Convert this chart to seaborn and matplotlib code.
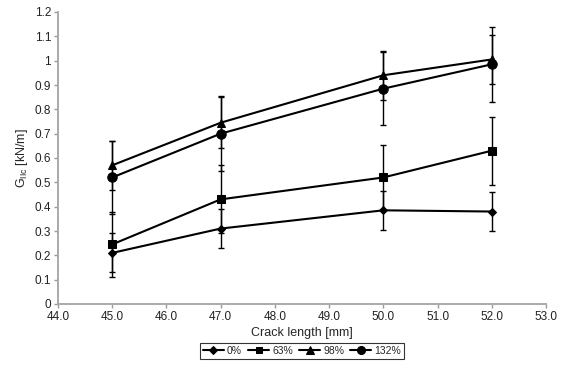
import numpy as np
import pandas as pd
import matplotlib
matplotlib.use("Agg")
import matplotlib.pyplot as plt
import seaborn as sns

# --- DATA ---
crack_length = [45.0, 47.0, 50.0, 52.0]
series_names = ["0%", "63%", "98%", "132%"]
g_0 = [0.21, 0.31, 0.385, 0.38]
g_63 = [0.245, 0.43, 0.52, 0.63]
g_98 = [0.57, 0.745, 0.94, 1.005]
g_132 = [0.52, 0.70, 0.885, 0.985]
err_0 = [0.08, 0.08, 0.08, 0.08]
err_63 = [0.135, 0.14, 0.135, 0.14]
err_98 = [0.10, 0.105, 0.10, 0.10]
err_132 = [0.15, 0.155, 0.15, 0.155]
x_ticks = [44.0, 45.0, 46.0, 47.0, 48.0, 49.0, 50.0, 51.0, 52.0, 53.0]
y_ticks = [0, 0.1, 0.2, 0.3, 0.4, 0.5, 0.6, 0.7, 0.8, 0.9, 1, 1.1, 1.2]

values = [g_0, g_63, g_98, g_132]
errors = [err_0, err_63, err_98, err_132]
markers = {"0%": "D", "63%": "s", "98%": "^", "132%": "o"}
msizes = {"0%": 4.5, "63%": 5.8, "98%": 6.0, "132%": 6.8}

df = pd.DataFrame({
    "Crack length": np.tile(crack_length, len(series_names)),
    "G": np.concatenate(values),
    "err": np.concatenate(errors),
    "series": np.repeat(series_names, len(crack_length)),
})

# --- STYLE ---
sns.set_style("white")
plt.rcParams["font.family"] = ["Liberation Sans", "DejaVu Sans"]
plt.rcParams["mathtext.fontset"] = "custom"
plt.rcParams["mathtext.rm"] = "Liberation Sans"
plt.rcParams["mathtext.it"] = "Liberation Sans"

fig = plt.figure(figsize=(5.68, 3.77), dpi=100)
ax = fig.add_axes([58 / 568, 1 - 304 / 377, (546 - 58) / 568, (304 - 12) / 377])

# error bars first
for name, g in df.groupby("series", sort=False):
    ax.errorbar(g["Crack length"], g["G"], yerr=g["err"], fmt="none",
                ecolor="black", elinewidth=1.0, capsize=2.5, capthick=1.0, zorder=2)

n_before = len(ax.get_lines())
sns.lineplot(data=df, x="Crack length", y="G", hue="series", style="series",
             markers=markers, dashes=False, palette=["black"] * 4,
             linewidth=1.5, markeredgecolor="black", ax=ax, zorder=3,
             legend=True)

# marker sizes per series (only the lines seaborn just drew)
for line, name in zip(ax.get_lines()[n_before:], series_names):
    line.set_markersize(msizes[name])

ax.set_xlim(44, 53)
ax.set_ylim(0, 1.2)
ax.set_xticks(x_ticks)
ax.set_xticklabels([f"{t:.1f}" for t in x_ticks])
ax.set_yticks(y_ticks)
ax.set_yticklabels([f"{t:g}" for t in y_ticks])
ax.tick_params(axis="both", labelsize=8.5, direction="out", length=3,
               color="#999999", width=1, bottom=True, left=True, pad=2,
               labelcolor="#222222")

for side in ["top", "right"]:
    ax.spines[side].set_visible(False)
for side in ["left", "bottom"]:
    ax.spines[side].set_color("#aaaaaa")
    ax.spines[side].set_linewidth(1.4)

ax.set_xlabel("Crack length [mm]", fontsize=9, labelpad=3)
ax.set_ylabel(r"G$_{\mathregular{IIc}}$ [kN/m]", fontsize=9, labelpad=3)

handles, labels = ax.get_legend_handles_labels()
for h, name in zip(handles, labels):
    h.set_markersize(msizes.get(name, 6) * 0.85)
leg = ax.legend(handles, labels, loc="center", bbox_to_anchor=(0.5, -0.16),
                ncol=4, fontsize=7.5, frameon=True, fancybox=False,
                handlelength=2.0, handletextpad=0.3, columnspacing=0.6,
                borderpad=0.3, borderaxespad=0)
leg.get_frame().set_edgecolor("black")
leg.get_frame().set_linewidth(0.8)

fig.savefig("out.png", dpi=100)
